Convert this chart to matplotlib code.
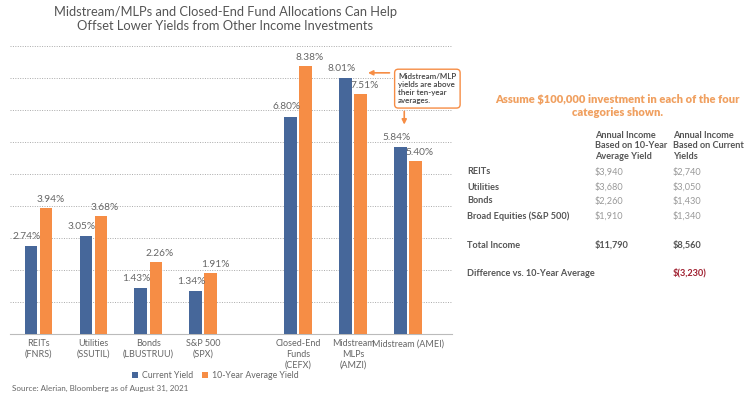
import numpy as np
import matplotlib.pyplot as plt

plt.rcParams['font.family'] = ['Lato', 'DejaVu Sans']

# chart data
categories = ['REITs\n(FNRS)', 'Utilities\n(SSUTIL)', 'Bonds\n(LBUSTRUU)', 'S&P 500\n(SPX)',
              'Closed-End\nFunds\n(CEFX)', 'Midstream\nMLPs\n(AMZI)', 'Midstream (AMEI)']
current_yield = [2.74, 3.05, 1.43, 1.34, 6.80, 8.01, 5.84]
avg_yield = [3.94, 3.68, 2.26, 1.91, 8.38, 7.51, 5.40]

# table data
table_rows = ['REITs', 'Utilities', 'Bonds', 'Broad Equities (S&P 500)']
income_avg = ['$3,940', '$3,680', '$2,260', '$1,910']
income_cur = ['$2,740', '$3,050', '$1,430', '$1,340']
total_avg = '$11,790'
total_cur = '$8,560'
difference = '$(3,230)'

blue = '#46679a'
orange = '#f68d45'
gray = '#666666'

fig = plt.figure(figsize=(7.5, 3.98), dpi=100)
ax = fig.add_axes([0.0133, 0.161, 0.59, 0.723])

x = np.array([0, 1, 2, 3, 4.73, 5.73, 6.73])
w = 0.23
off = 0.137
b1 = ax.bar(x - off, current_yield, w, color=blue, label='Current Yield', zorder=3)
b2 = ax.bar(x + off, avg_yield, w, color=orange, label='10-Year Average Yield', zorder=3)

for xi, v in zip(x, current_yield):
    ax.annotate(f'{v:.2f}%', (xi - off, v), xytext=(-3, 7), textcoords='offset points',
                ha='center', va='center', fontsize=7.3, color=gray)
for xi, v in zip(x, avg_yield):
    ax.annotate(f'{v:.2f}%', (xi + off, v), xytext=(3, 6), textcoords='offset points',
                ha='center', va='center', fontsize=7.3, color=gray)

ax.set_xlim(-0.52, 7.54)
ax.set_ylim(0, 9)
ax.set_yticks(np.arange(1, 10))
ax.yaxis.grid(True, linestyle=(0, (1, 1.5)), color='#aaaaaa', linewidth=0.7)
ax.tick_params(axis='y', left=False, labelleft=False)
ax.set_xticks(x)
ax.set_xticklabels(categories, fontsize=6.5, color=gray, linespacing=1.2)
ax.tick_params(axis='x', length=0, pad=4)
for s in ['top', 'right', 'left']:
    ax.spines[s].set_visible(False)
ax.spines['bottom'].set_color('#bbbbbb')
ax.set_axisbelow(True)

fig.text(0.30, 0.985, 'Midstream/MLPs and Closed-End Fund Allocations Can Help\n'
         'Offset Lower Yields from Other Income Investments',
         ha='center', va='top', fontsize=9.3, color='#555555', linespacing=1.2)

fig.legend(handles=[b1, b2], loc='center', bbox_to_anchor=(0.287, 0.057), ncol=2,
           frameon=False, fontsize=6.3, handlelength=0.7, handleheight=0.7,
           handletextpad=0.4, columnspacing=1.1, labelcolor=gray)

fig.text(0.016, 0.014, 'Source: Alerian, Bloomberg as of August 31, 2021',
         fontsize=5.8, color=gray, va='bottom')

# callout box
fig.text(0.531, 0.817, 'Midstream/MLP\nyields are above\ntheir ten-year\naverages.',
         fontsize=5.8, fontweight='semibold', color='#444444', va='top', ha='left',
         linespacing=1.2, bbox=dict(boxstyle='round,pad=0.45', fc='white', ec=orange, lw=1))
ax.annotate('', xy=(0.487, 0.817), xycoords='figure fraction',
            xytext=(0.523, 0.817), textcoords='figure fraction',
            arrowprops=dict(arrowstyle='-|>', color=orange, lw=1.2, mutation_scale=7))
ax.annotate('', xy=(0.539, 0.680), xycoords='figure fraction',
            xytext=(0.539, 0.727), textcoords='figure fraction',
            arrowprops=dict(arrowstyle='-|>', color=orange, lw=1.2, mutation_scale=7))

# income table
fig.text(0.823, 0.734, 'Assume $100,000 investment in each of the four\ncategories shown.',
         ha='center', va='center', fontsize=8, fontweight='heavy', color='#f0a060',
         linespacing=1.25)
c0, c1, c2 = 0.623, 0.793, 0.897
hdr = dict(fontsize=6.6, fontweight='bold', color='#555555', va='top', linespacing=1.25)
fig.text(c1, 0.672, 'Annual Income\nBased on 10-Year\nAverage Yield', **hdr)
fig.text(c2, 0.672, 'Annual Income\nBased on Current\nYields', **hdr)
row_y = [0.568, 0.530, 0.495, 0.457]
for y, name, a, c in zip(row_y, table_rows, income_avg, income_cur):
    fig.text(c0, y, name, fontsize=6.6, fontweight='bold', color='#555555', va='center')
    fig.text(c1, y, a, fontsize=6.6, color='#999999', va='center')
    fig.text(c2, y, c, fontsize=6.6, color='#999999', va='center')
fig.text(c0, 0.384, 'Total Income', fontsize=6.6, fontweight='bold', color='#555555', va='center')
fig.text(c1, 0.384, total_avg, fontsize=6.6, fontweight='bold', color='#555555', va='center')
fig.text(c2, 0.384, total_cur, fontsize=6.6, fontweight='bold', color='#555555', va='center')
fig.text(c0, 0.314, 'Difference vs. 10-Year Average', fontsize=6.6, fontweight='bold',
         color='#555555', va='center')
fig.text(c2, 0.314, difference, fontsize=6.6, fontweight='bold', color='#a02030', va='center')

fig.savefig('out.png', dpi=100)
